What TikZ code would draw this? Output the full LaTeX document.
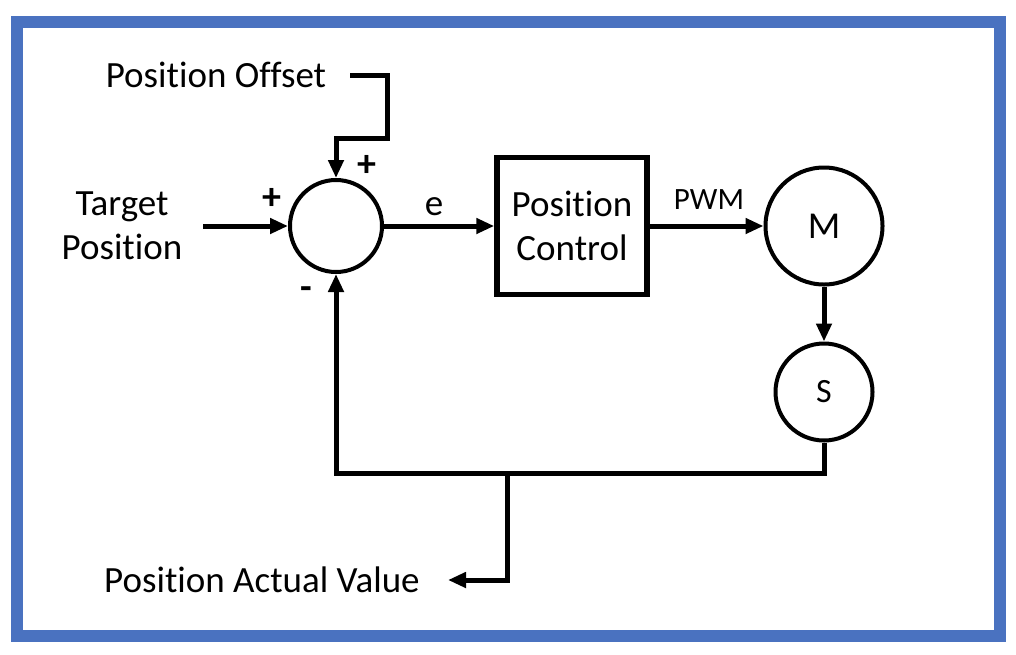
\documentclass[tikz,border=0pt]{standalone}
\usepackage{fontspec}
\setmainfont{Carlito}[Ligatures={NoCommon}]
\usetikzlibrary{arrows.meta, positioning}
\definecolor{frameblue}{HTML}{4A72C0}

\begin{document}
\begin{tikzpicture}[
    x=1pt, y=-1pt,
    every node/.style={inner sep=0pt, font=\fontsize{37}{44}\selectfont},
    block/.style={draw, line width=5.5pt, minimum width=150pt, minimum height=137pt, align=center},
    sum/.style={circle, draw, line width=4pt, minimum size=92pt},
    unit/.style={circle, draw, line width=4pt},
    sign/.style={font=\fontsize{38}{44}\bfseries},
    arr/.style={line width=5pt, -{Triangle[length=18pt, width=15pt]}},
    wire/.style={line width=5pt}
]

\useasboundingbox (0,0) rectangle (1016,654);
\draw[frameblue, line width=12pt] (17,22) rectangle (1000,636);

\node[sum] (sum) at (336,226) {};
\node[block] (ctrl) at (572,226) {Position\\Control};
\node[unit, minimum size=117pt, font=\fontsize{38}{44}\selectfont] (M) at (824,226) {M};
\node[unit, minimum size=97pt, font=\fontsize{34}{40}\selectfont] (S) at (824,392) {S};

\node[align=center] (target) at (122,226) {Target\\Position};
\node (offset) at (216,75) {Position Offset};
\node (actual) at (262,580) {Position Actual Value};

\node[sign] (plusleft) at (272,199) {+};
\node[sign] (plustop) at (367,166) {+};
\node[sign] (minus) at (306,293) {-};
\node (e) at (434,207) {e};
\node[font=\fontsize{31}{36}\selectfont] (pwm) at (709,200) {PWM};

\coordinate (tin) at (203,226);
\coordinate (ofs) at (350,75);
\coordinate (ofsbend) at (387,138);
\coordinate (fb) at (507,473);
\coordinate (aout) at (448,580);

\draw[arr] (tin) -- (sum.west);
\draw[arr] (ofs) -| (ofsbend) -| (sum.north);
\draw[arr] (sum.east) -- (ctrl.west);
\draw[arr] (ctrl.east) -- (ctrl.east -| M.west);
\draw[arr] (M.south) -- (S.north);
\draw[arr] (S.south) -- (S.south |- fb) -| (sum.south);
\draw[arr] (fb) |- (aout);

\end{tikzpicture}
\end{document}
